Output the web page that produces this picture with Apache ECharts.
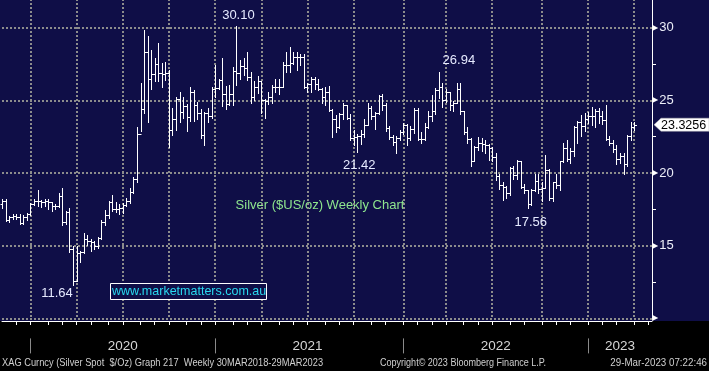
<!DOCTYPE html>
<html><head><meta charset="utf-8">
<script src="https://cdn.jsdelivr.net/npm/echarts@6/dist/echarts.min.js"></script>
<style>html,body{margin:0;padding:0;background:#0f0e47;overflow:hidden;}#c{width:709px;height:416px;margin-top:-45px;}</style>
</head><body><div id="c"></div>
<script>
// ---- weekly categories (Friday dates) ----
const dates = [
'2019-11-01','2019-11-08','2019-11-15','2019-11-22','2019-11-29','2019-12-06','2019-12-13','2019-12-20','2019-12-27',
'2020-01-03','2020-01-10','2020-01-17','2020-01-24','2020-01-31','2020-02-07','2020-02-14','2020-02-21','2020-02-28',
'2020-03-06','2020-03-13','2020-03-20','2020-03-27','2020-04-03','2020-04-10','2020-04-17','2020-04-24','2020-05-01',
'2020-05-08','2020-05-15','2020-05-22','2020-05-29','2020-06-05','2020-06-12','2020-06-19','2020-06-26','2020-07-03',
'2020-07-10','2020-07-17','2020-07-24','2020-07-31','2020-08-07','2020-08-14','2020-08-21','2020-08-28','2020-09-04',
'2020-09-11','2020-09-18','2020-09-25','2020-10-02','2020-10-09','2020-10-16','2020-10-23','2020-10-30','2020-11-06',
'2020-11-13','2020-11-20','2020-11-27','2020-12-04','2020-12-11','2020-12-18','2020-12-25',
'2021-01-01','2021-01-08','2021-01-15','2021-01-22','2021-01-29','2021-02-05','2021-02-12','2021-02-19','2021-02-26',
'2021-03-05','2021-03-12','2021-03-19','2021-03-26','2021-04-02','2021-04-09','2021-04-16','2021-04-23','2021-04-30',
'2021-05-07','2021-05-14','2021-05-21','2021-05-28','2021-06-04','2021-06-11','2021-06-18','2021-06-25','2021-07-02',
'2021-07-09','2021-07-16','2021-07-23','2021-07-30','2021-08-06','2021-08-13','2021-08-20','2021-08-27','2021-09-03',
'2021-09-10','2021-09-17','2021-09-24','2021-10-01','2021-10-08','2021-10-15','2021-10-22','2021-10-29','2021-11-05',
'2021-11-12','2021-11-19','2021-11-26','2021-12-03','2021-12-10','2021-12-17','2021-12-24','2021-12-31',
'2022-01-07','2022-01-14','2022-01-21','2022-01-28','2022-02-04','2022-02-11','2022-02-18','2022-02-25','2022-03-04',
'2022-03-11','2022-03-18','2022-03-25','2022-04-01','2022-04-08','2022-04-15','2022-04-22','2022-04-29','2022-05-06',
'2022-05-13','2022-05-20','2022-05-27','2022-06-03','2022-06-10','2022-06-17','2022-06-24','2022-07-01','2022-07-08',
'2022-07-15','2022-07-22','2022-07-29','2022-08-05','2022-08-12','2022-08-19','2022-08-26','2022-09-02','2022-09-09',
'2022-09-16','2022-09-23','2022-09-30','2022-10-07','2022-10-14','2022-10-21','2022-10-28','2022-11-04','2022-11-11',
'2022-11-18','2022-11-25','2022-12-02','2022-12-09','2022-12-16','2022-12-23','2022-12-30',
'2023-01-06','2023-01-13','2023-01-20','2023-01-27','2023-02-03','2023-02-10','2023-02-17','2023-02-24','2023-03-03',
'2023-03-10','2023-03-17','2023-03-24','2023-03-31','2023-04-07','2023-04-14','2023-04-21','2023-04-28','2023-05-05'
];
// ---- weekly OHLC ----
const opens = [
17.9,18.1,16.8,16.95,17.05,16.95,16.55,16.95,17.15,
17.9,18.05,18.05,18.0,18.05,18.0,17.75,17.7,18.45,
16.6,17.3,14.8,12.6,14.5,14.55,15.45,15.35,15.25,
14.95,15.5,16.6,17.1,18.0,17.5,17.55,17.6,17.8,
18.05,18.7,19.6,22.7,24.4,28.35,26.5,26.8,27.5,
26.85,26.8,26.85,22.95,23.75,25.1,24.2,24.6,23.85,
25.6,24.7,24.1,22.65,24.15,23.95,25.8,
25.85,26.4,25.45,24.75,25.45,27.0,26.9,27.35,27.2,
26.6,25.25,25.9,26.3,25.05,24.95,25.2,25.95,25.95,
25.9,27.45,27.4,27.55,27.95,27.95,28.0,25.9,26.1,
26.5,26.15,25.8,25.2,25.55,24.35,23.7,23.15,24.05,
24.7,23.8,22.4,22.45,22.55,22.7,23.3,24.45,23.95,
24.1,25.3,24.65,23.1,22.45,22.15,22.4,22.85,
23.3,22.4,23.0,24.35,22.35,22.35,23.2,23.95,24.3,
25.7,25.9,25.05,25.6,24.7,24.8,25.8,24.3,22.8,
22.35,20.8,21.8,22.05,22.0,21.95,21.75,21.1,19.8,
19.2,19.05,18.6,20.35,19.85,20.8,19.05,18.8,17.9,
18.8,19.45,18.9,19.0,20.2,18.3,19.35,19.2,20.8,
21.7,20.95,21.5,23.2,23.5,23.25,23.75,
23.95,23.9,24.3,23.9,23.65,22.35,22.1,21.65,21.0,
21.2,20.6,22.55,23.15
];
const highs = [
18.2,18.2,17.05,17.2,17.15,17.2,17.1,17.25,17.95,
18.2,18.8,18.15,18.2,18.2,18.0,17.85,18.65,18.95,
17.4,17.6,15.0,14.95,14.65,15.9,15.75,15.45,15.3,
15.6,16.75,17.45,18.1,18.5,18.0,17.9,17.95,18.25,
19.0,19.75,23.2,26.2,29.85,29.4,28.45,27.9,28.95,
27.55,27.65,27.1,24.45,25.25,25.6,25.2,24.75,25.9,
25.7,24.9,24.4,24.2,24.5,25.9,27.4,
26.45,27.9,26.0,26.05,27.3,30.1,27.75,27.9,28.35,
26.95,26.35,26.7,26.3,25.1,25.6,26.05,26.5,26.45,
27.65,28.3,28.7,28.3,28.3,28.2,28.2,26.2,26.6,
26.6,26.45,25.85,25.9,26.0,24.4,24.0,24.1,24.85,
24.7,24.05,22.95,22.7,22.95,23.75,24.8,24.6,24.2,
25.4,25.45,24.85,23.25,22.65,22.55,22.95,23.45,
23.4,23.25,24.5,24.45,22.8,23.45,24.3,25.4,25.85,
26.95,26.2,25.8,25.6,24.95,26.2,26.2,24.3,23.2,
22.4,21.85,22.45,22.4,22.3,22.0,21.8,21.35,19.95,
19.35,19.1,20.4,20.5,20.9,20.85,19.25,18.8,18.9,
19.9,19.9,19.35,21.25,20.3,19.4,19.9,20.85,22.05,
22.25,21.75,23.25,23.6,24.0,24.15,24.2,
24.55,24.4,24.5,24.3,24.65,22.55,22.3,21.95,21.35,
21.35,22.65,23.5,23.5
];
const lows = [
17.6,16.7,16.6,16.85,16.85,16.5,16.5,16.8,17.1,
17.8,17.7,17.65,17.7,17.5,17.4,17.5,17.65,16.45,
16.5,14.6,12.3,12.6,13.9,14.5,15.05,14.65,14.75,
14.85,15.45,16.45,16.9,17.4,17.3,17.2,17.25,17.7,
17.95,18.65,19.4,22.9,24.1,23.5,25.8,26.3,26.3,
25.9,26.4,21.8,22.6,22.95,23.5,23.8,22.9,23.6,
23.6,23.7,22.4,21.9,23.5,23.8,25.2,
25.8,24.6,24.4,24.65,24.7,26.05,26.45,26.75,26.4,
24.8,25.05,25.5,24.1,23.8,24.75,24.85,25.6,25.45,
25.9,26.95,26.95,27.5,27.1,27.45,25.85,25.55,25.6,
25.75,25.7,24.85,24.7,24.3,22.5,22.85,23.1,23.75,
23.7,22.3,21.9,21.45,22.0,22.45,23.3,23.7,23.0,
24.05,24.35,22.9,22.35,21.95,21.4,22.3,22.7,
21.95,22.25,22.75,22.3,22.05,22.3,23.1,23.55,24.05,
25.15,24.55,24.9,24.35,24.25,24.8,24.05,22.7,22.1,
20.45,20.8,21.6,21.55,21.4,20.9,20.85,19.55,18.9,
18.15,18.3,18.5,19.6,19.6,19.0,18.6,17.6,17.8,
18.75,18.6,18.1,18.95,18.15,18.1,18.95,18.85,20.75,
20.8,20.7,21.15,22.1,22.55,22.9,23.45,
23.3,23.2,23.45,23.4,22.3,21.9,21.45,20.65,20.7,
19.95,20.5,22.3,22.95
];
const closes = [
18.1,16.8,16.95,17.05,16.95,16.55,16.95,17.15,17.9,
18.05,18.05,18.0,18.05,18.0,17.75,17.7,18.45,16.6,
17.3,14.8,12.6,14.5,14.55,15.45,15.35,15.25,14.95,
15.5,16.6,17.1,18.0,17.5,17.55,17.6,17.8,18.05,
18.7,19.6,22.7,24.4,28.35,26.5,26.8,27.5,26.85,
26.8,26.85,22.95,23.75,25.1,24.2,24.6,23.85,25.6,
24.7,24.1,22.65,24.15,23.95,25.8,25.85,
26.4,25.45,24.75,25.45,27.0,26.9,27.35,27.2,26.6,
25.25,25.9,26.3,25.05,24.95,25.2,25.95,25.95,25.9,
27.45,27.4,27.55,27.95,27.95,28.0,25.9,26.1,26.5,
26.15,25.8,25.2,25.55,24.35,23.7,23.15,24.05,24.7,
23.8,22.4,22.45,22.55,22.7,23.3,24.45,23.95,24.1,
25.3,24.65,23.1,22.45,22.15,22.4,22.85,23.3,
22.4,23.0,24.35,22.35,22.35,23.2,23.95,24.3,25.7,
25.9,25.05,25.6,24.7,24.8,25.8,24.3,22.8,22.35,
20.8,21.8,22.05,22.0,21.95,21.75,21.1,19.8,19.2,
19.05,18.6,20.35,19.85,20.8,19.05,18.8,17.9,18.8,
19.45,18.9,19.0,20.2,18.3,19.35,19.2,20.8,21.7,
20.95,21.5,23.2,23.5,23.25,23.75,23.95,
23.9,24.3,23.9,23.65,22.35,22.1,21.65,21.0,21.2,
20.6,22.55,23.15,23.3256
];
// ---- axis tick values / labels ----
const yMin = 10, yMax = 35, yStep = 5;
const yearLabels = {'2020-06-26':'2020','2021-06-25':'2021','2022-07-01':'2022','2023-03-03':'2023'};
// ---- annotations (date, value, text) ----
const annotations = [
  {date:'2021-02-05', value:30.10, text:'30.10'},
  {date:'2022-03-11', value:26.94, text:'26.94'},
  {date:'2021-10-01', value:21.42, text:'21.42'},
  {date:'2022-09-02', value:17.56, text:'17.56'},
  {date:'2020-03-20', value:11.64, text:'11.64'}
];
const annotationOffsets = [[2,-11],[20,-12],[2,13],[3,14],[-16,-1]];

const FONT = "'Liberation Sans', Arial, sans-serif";
const GRID = '#8c8c8c';
const SHIFT = 45; // the chart div is shifted up by this many px

function mon(i){ return dates[i].slice(0,7); }
function monthEnd(i){ return i < dates.length-1 && mon(i+1) !== mon(i); }
function quarterEnd(i){ if(!monthEnd(i)) return false; const m = +dates[i].slice(5,7); return m % 3 === 0; }
function yearEnd(i){ return i < dates.length-1 && dates[i+1].slice(0,4) !== dates[i].slice(0,4); }

const ohlc = closes.map((c,i)=>[i, opens[i], highs[i], lows[i], c]);

function renderItem(params, api){
  const x = api.value(0);
  const o = api.coord([x, api.value(1)]);
  const h = api.coord([x, api.value(2)]);
  const l = api.coord([x, api.value(3)]);
  const c = api.coord([x, api.value(4)]);
  const px = Math.round(o[0]) + 0.5;
  const st = {stroke:'#ffffff', lineWidth:1};
  const oy = Math.round(o[1]) + 0.5, cy = Math.round(c[1]) + 0.5;
  return {type:'group', children:[
    {type:'line', shape:{x1:px, y1:Math.round(h[1]), x2:px, y2:Math.round(l[1])+1}, style:st},
    {type:'line', shape:{x1:px-2, y1:oy, x2:px, y2:oy}, style:st},
    {type:'line', shape:{x1:px, y1:cy, x2:px+2.5, y2:cy}, style:st}
  ]};
}

const chart = echarts.init(document.getElementById('c'), null, {renderer:'canvas'});
const option = {
  animation:false,
  backgroundColor:'#0f0e47',
  grid:{left:2, right:57, top:0, bottom:52.6, containLabel:false, outerBoundsMode:'none'},
  title:{
    text:'www.marketmatters.com.au', left:110, top:283+SHIFT,
    padding:[1,1,1,2], borderColor:'#ffffff', borderWidth:1, backgroundColor:'#0f0e47',
    textStyle:{color:'#29d9ef', fontSize:12.5, fontWeight:'normal', fontFamily:FONT, lineHeight:15}
  },
  xAxis:[{
    type:'category', data:dates, boundaryGap:false, offset:2.6,
    axisLine:{show:true, lineStyle:{color:'#ffffff', width:1}},
    axisTick:{show:true, interval:(i)=>monthEnd(i), length:4, lineStyle:{color:'#ffffff'}},
    axisLabel:{show:true, interval:(i,v)=>yearLabels[v]!==undefined, formatter:(v)=>yearLabels[v]||'',
      margin:18, color:'#d6d6d6', fontSize:13.5, fontFamily:FONT},
    splitLine:{show:true, interval:(i)=>quarterEnd(i), lineStyle:{color:GRID, width:2, type:[2,2]}}
  },{
    type:'category', data:dates, boundaryGap:false, position:'bottom', offset:20,
    axisLine:{show:true, lineStyle:{color:'rgba(0,0,0,0)'}}, axisLabel:{show:false}, splitLine:{show:false},
    axisTick:{show:true, interval:(i)=>yearEnd(i), length:15, lineStyle:{color:'#8a8a8a', width:1}}
  }],
  yAxis:{
    type:'value', position:'right', min:yMin, max:yMax, interval:yStep,
    axisLine:{show:true, lineStyle:{color:'#ffffff', width:1}},
    axisTick:{show:false},
    minorTick:{show:true, splitNumber:2, length:4, lineStyle:{color:'#ffffff'}},
    splitLine:{show:true, lineStyle:{color:GRID, width:2, type:[2,2]}},
    axisLabel:{margin:0, formatter:(v)=> v===yMin ? '{t|▶}' : '{t|▶}{n|'+v+'}',
      rich:{t:{color:'#ffffff', fontSize:8, fontFamily:'DejaVu Sans', padding:[0,1,0,0]},
            n:{color:'#eceef8', fontSize:13, fontFamily:FONT}}}
  },
  series:[{
    type:'custom', renderItem:renderItem, data:ohlc, xAxisIndex:0, yAxisIndex:0,
    encode:{x:0, y:[1,2,3,4]}, clip:false,
    markPoint:{
      symbol:'circle', symbolSize:1, silent:true, animation:false,
      itemStyle:{color:'rgba(0,0,0,0)'},
      label:{show:true, position:'inside', color:'#e6eaff', fontSize:13, fontFamily:FONT, formatter:(p)=>p.name},
      data:annotations.map((a,k)=>({name:a.text, coord:[a.date, a.value], label:{offset:annotationOffsets[k]}}))
    }
  }],
  graphic:{elements:[
    {type:'rect', z:-1, shape:{x:0, y:321+SHIFT, width:709, height:60}, style:{fill:'#000000'}, silent:true},
    {type:'text', x:320, y:205+SHIFT, style:{text:'Silver ($US/oz) Weekly Chart', fill:'#8ee68e', font:'13px '+FONT, textAlign:'center', textVerticalAlign:'middle'}},
    {type:'text', x:2, y:363+SHIFT, scaleX:0.885, style:{text:'XAG Curncy (Silver Spot  $/Oz) Graph 217  Weekly 30MAR2018-29MAR2023', fill:'#cfcfcf', font:'10.5px '+FONT, textVerticalAlign:'middle'}},
    {type:'text', x:380, y:363+SHIFT, scaleX:0.86, style:{text:'Copyright\u00a9 2023 Bloomberg Finance L.P.', fill:'#cfcfcf', font:'10.5px '+FONT, textVerticalAlign:'middle'}},
    {type:'text', x:707, y:363+SHIFT, scaleX:0.93, style:{text:'29-Mar-2023 07:22:46', fill:'#cfcfcf', font:'10.5px '+FONT, textAlign:'right', textVerticalAlign:'middle'}}
  ]}
};
chart.setOption(option);
const lastClose = closes[closes.length-1];
const ty = chart.convertToPixel({yAxisIndex:0}, lastClose);
chart.setOption({graphic:{elements:[
  {id:'tag', type:'polygon', shape:{points:[[654,ty],[661,ty-6.5],[709,ty-6.5],[709,ty+6.5],[661,ty+6.5]]}, style:{fill:'#ffffff', stroke:'#bbbbbb', lineWidth:0.5}},
  {id:'tagText', type:'text', x:661, y:ty+0.5, style:{text:String(lastClose), fill:'#000000', font:'12.5px '+FONT, textVerticalAlign:'middle'}}
]}});
</script>
</body></html>
